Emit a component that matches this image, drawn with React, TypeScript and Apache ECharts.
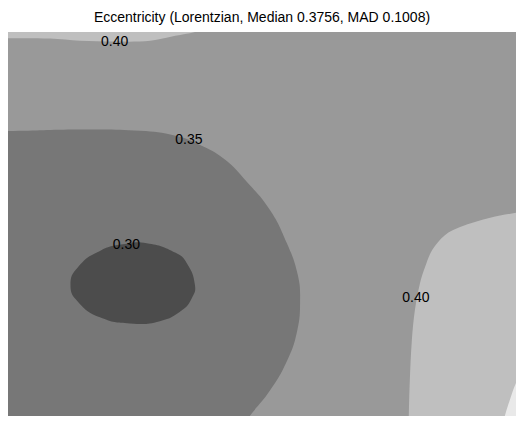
import React, { useEffect, useRef } from "react";
import * as echarts from "echarts";

// Chart title
const titleText = "Eccentricity (Lorentzian, Median 0.3756, MAD 0.1008)";

// Contour band colours (value bands)
const bandColors = {
  b030_035: "#777777",
  below030: "#4c4c4c",
  above040: "#bfbfbf",
  above045: "#e9e9e9",
  b035_040: "#999999",
};

// Contour boundaries in data units (x: 0..100 left→right, y: 0..100 bottom→top)
// 0.35 contour – region with values 0.30..0.35 (left side)
const region030to035: number[][] = [
  [-10, 74.2], [0, 74.2], [14, 74.6], [26, 74.3], [33, 73.0], [37.8, 70.6],
  [42.5, 67], [47, 61], [51.6, 53.6], [54.9, 45], [57, 37], [57.5, 30.2],
  [56.9, 22], [54.8, 14], [51.5, 6.5], [47.6, 0], [45, -5], [45, -15], [-15, -15],
];
// 0.30 contour – region below 0.30
const regionBelow030: number[][] = [
  [27.3, 45.0], [33.0, 42.5], [35.2, 39.8], [36.8, 34.1], [36.2, 30.7],
  [34.3, 27.6], [29.9, 24.7], [24.0, 24.1], [18.1, 25.7], [13.8, 29.7],
  [12.3, 34.1], [13.8, 38.8], [18.1, 43.0], [22.6, 44.7],
];
// 0.40 contour – top region above 0.40
const regionAbove040Top: number[][] = [
  [-10, 98.5], [0, 98.4], [8.3, 98.3], [14.2, 97.7], [21.0, 97.5], [28.0, 97.7],
  [32.9, 99.0], [36.8, 100], [40.5, 101.8], [42, 115], [-15, 115],
];
// 0.40 contour – right region above 0.40
const regionAbove040Right: number[][] = [
  [103, 53.4], [100, 52.9], [94.9, 51.6], [89.0, 49.2], [86.0, 47.1],
  [83.5, 43.2], [82.1, 38.8], [81.1, 34.6], [80.1, 27.6], [79.5, 19.8],
  [79.1, 9.4], [78.9, 0], [78.9, -4], [79, -15], [115, -15], [115, 54],
];
// 0.45 contour – bottom-right corner above 0.45
const regionAbove045: number[][] = [
  [97.0, -4], [97.8, 0], [98.8, 4.2], [100, 8.6], [101.5, 12], [115, 14], [115, -15], [97, -15],
];

// Contour labels
const labelTexts = ["0.40", "0.35", "0.30", "0.40"];
const labelX = [21.0, 35.6, 23.3, 80.3];
const labelY = [97.6, 72.1, 44.7, 31.0];

const regions = [region030to035, regionBelow030, regionAbove040Top, regionAbove040Right, regionAbove045];
const regionColors = [
  bandColors.b030_035,
  bandColors.below030,
  bandColors.above040,
  bandColors.above040,
  bandColors.above045,
];
const regionSmooth = [0.45, 0.5, 0.35, 0.35, 0.35];

const FONT = "Liberation Sans, Arial, Helvetica, sans-serif";

export default function App() {
  const ref = useRef<HTMLDivElement>(null);
  useEffect(() => {
    if (!ref.current) return;
    const chart = echarts.init(ref.current, null, { renderer: "svg" });
    chart.setOption({
      animation: false,
      backgroundColor: "#ffffff",
      title: {
        text: titleText,
        left: "center",
        top: 10,
        padding: 0,
        textStyle: { fontSize: 14, fontWeight: "normal", color: "#000", fontFamily: FONT },
      },
      grid: {
        left: 8,
        right: 8,
        top: 32,
        bottom: 8,
        show: true,
        backgroundColor: bandColors.b035_040,
        borderWidth: 0,
      },
      xAxis: { type: "value", min: 0, max: 100, show: false },
      yAxis: { type: "value", min: 0, max: 100, show: false },
      series: [
        {
          type: "custom",
          clip: true,
          data: regions.map((_, i) => [i]),
          renderItem: (params: any, api: any) => {
            const pts = regions[params.dataIndex].map((p) => api.coord(p));
            return {
              type: "polygon",
              shape: { points: pts, smooth: regionSmooth[params.dataIndex] },
              style: { fill: regionColors[params.dataIndex], stroke: "none" },
            };
          },
        },
        {
          type: "custom",
          data: labelTexts.map((_, i) => [labelX[i], labelY[i]]),
          renderItem: (params: any, api: any) => {
            const c = api.coord([api.value(0), api.value(1)]);
            return {
              type: "text",
              x: c[0],
              y: c[1],
              style: {
                text: labelTexts[params.dataIndex],
                fill: "#000",
                font: `14px ${FONT}`,
                align: "center",
                verticalAlign: "middle",
              },
            };
          },
        },
      ],
    });
    return () => chart.dispose();
  }, []);
  return (
    <div
      ref={ref}
      style={{ position: "fixed", left: 0, top: 0, width: 524, height: 424 }}
    />
  );
}
